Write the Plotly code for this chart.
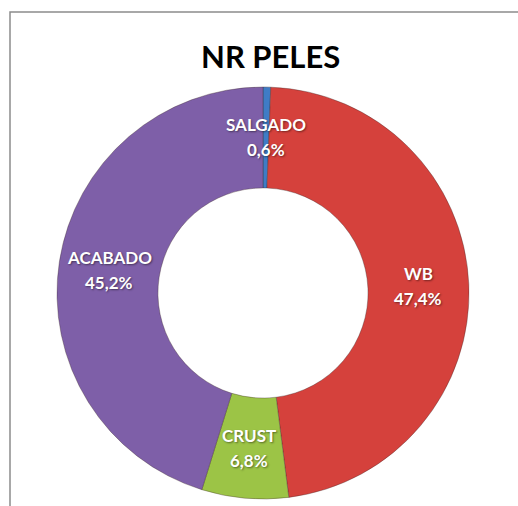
import math
import plotly.graph_objects as go

categories = ["SALGADO", "WB", "CRUST", "ACABADO"]
values = [0.6, 47.4, 6.8, 45.2]
colors = ["#3F7CC6", "#D5413C", "#9CC446", "#7E5FA8"]
title_text = "NR PELES"

W, H = 518, 506
cx, cy, R = 263, 293, 206
hole = 0.51

fig = go.Figure(go.Pie(
    labels=categories, values=values, sort=False, direction="clockwise", rotation=0,
    hole=hole, textinfo="none", hoverinfo="label+percent",
    marker=dict(colors=colors, line=dict(color="rgba(60,40,40,0.35)", width=1)),
    domain=dict(x=[(cx - R) / W, (cx + R) / W], y=[1 - (cy + R) / H, 1 - (cy - R) / H]),
    showlegend=False,
))

total = sum(values)
rmid = R * (1 + hole) / 2
cum = 0
annotations = []
lab_font = dict(family="Lato", size=17, color="white",
                shadow="1px 1px 2px rgba(0,0,0,0.45)")
for cat, v in zip(categories, values):
    mid = (cum + v / 2) / total * 2 * math.pi
    cum += v
    x = cx + rmid * math.sin(mid)
    y = cy - rmid * math.cos(mid)
    pct = f"{v / total * 100:.1f}".replace(".", ",") + "%"
    for txt, shift in ((cat, 12.5), (pct, -12.5)):
        annotations.append(dict(
            x=x / W, y=1 - y / H, xref="paper", yref="paper", showarrow=False,
            xanchor="center", yanchor="middle", yshift=shift,
            text=f"<b>{txt}</b>", font=lab_font, align="center",
        ))

annotations.append(dict(
    x=270 / W, y=1 - 56 / H, xref="paper", yref="paper", showarrow=False,
    xanchor="center", yanchor="middle",
    text=f"<b>{title_text}</b>", font=dict(family="Lato", size=31, color="black"),
))

fig.update_layout(
    width=W, height=H, margin=dict(l=0, r=0, t=0, b=0),
    paper_bgcolor="white", plot_bgcolor="white",
    annotations=annotations,
    shapes=[dict(type="rect", xref="paper", yref="paper",
                 x0=10 / W, x1=1.2, y0=-0.2, y1=1 - 12 / H,
                 line=dict(color="#8C8C8C", width=1.5), layer="below")],
)

fig.write_html("out.html")
